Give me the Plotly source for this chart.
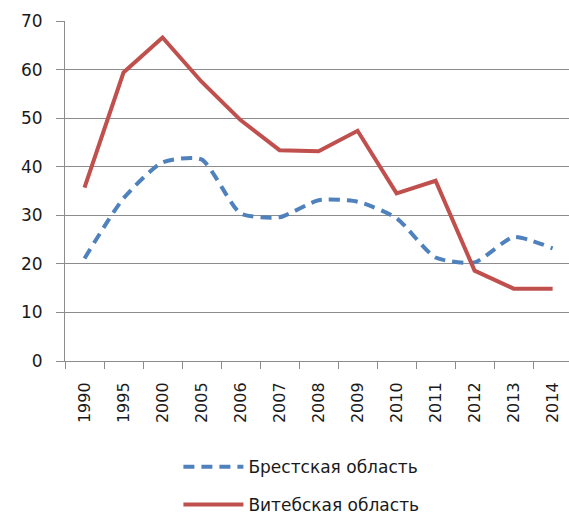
import plotly.graph_objects as go

years = ["1990", "1995", "2000", "2005", "2006", "2007", "2008", "2009", "2010", "2011", "2012", "2013", "2014"]
brest = [21.1, 33.5, 40.9, 41.5, 30.4, 29.6, 33.1, 32.8, 29.4, 21.3, 20.3, 25.5, 23.2]
vitebsk = [35.7, 59.4, 66.6, 57.5, 49.6, 43.4, 43.2, 47.4, 34.5, 37.1, 18.6, 14.9, 14.9]
y_ticks = [0, 10, 20, 30, 40, 50, 60, 70]

FONT = "DejaVu Sans"
GRID = "#8c8c8c"

fig = go.Figure()
fig.add_trace(go.Scatter(
    x=years, y=brest, mode="lines", name="Брестская область",
    line=dict(color="#4F81BD", width=4, dash="11px,7px", shape="spline", smoothing=0.6),
    legend="legend",
))
fig.add_trace(go.Scatter(
    x=years, y=vitebsk, mode="lines", name="Витебская область",
    line=dict(color="#C0504D", width=4),
    legend="legend2",
))

legend_common = dict(
    orientation="v", xanchor="left", yanchor="middle",
    font=dict(family=FONT, size=17, color="#1a1a1a"),
    bgcolor="rgba(0,0,0,0)", itemwidth=60,
)

fig.update_layout(
    width=569, height=514,
    margin=dict(l=65, r=0, t=21, b=153, autoexpand=False),
    plot_bgcolor="white", paper_bgcolor="white",
    showlegend=True,
    legend=dict(x=0.225, y=-0.312, **legend_common),
    legend2=dict(x=0.225, y=-0.4235, **legend_common),
    xaxis=dict(
        type="category", range=[-0.5, 12.42], automargin=False,
        tickson="boundaries", ticks="outside", ticklen=7, tickcolor=GRID,
        showgrid=False, showline=True, linecolor=GRID, linewidth=1,
        tickangle=-90, tickfont=dict(family=FONT, size=16, color="#1a1a1a"),
        ticklabelstandoff=14,
    ),
    yaxis=dict(
        range=[0, 70], tickvals=y_ticks, automargin=False,
        ticks="outside", ticklen=8, tickcolor=GRID,
        showgrid=True, gridcolor=GRID, gridwidth=1,
        showline=True, linecolor=GRID, linewidth=1, zeroline=False,
        tickfont=dict(family=FONT, size=17, color="#1a1a1a"),
        ticklabelstandoff=10,
    ),
)

fig.write_html(
    "out.html",
    config={"displayModeBar": False},
    post_script="document.body.style.margin='0';document.body.style.overflow='hidden';",
)
